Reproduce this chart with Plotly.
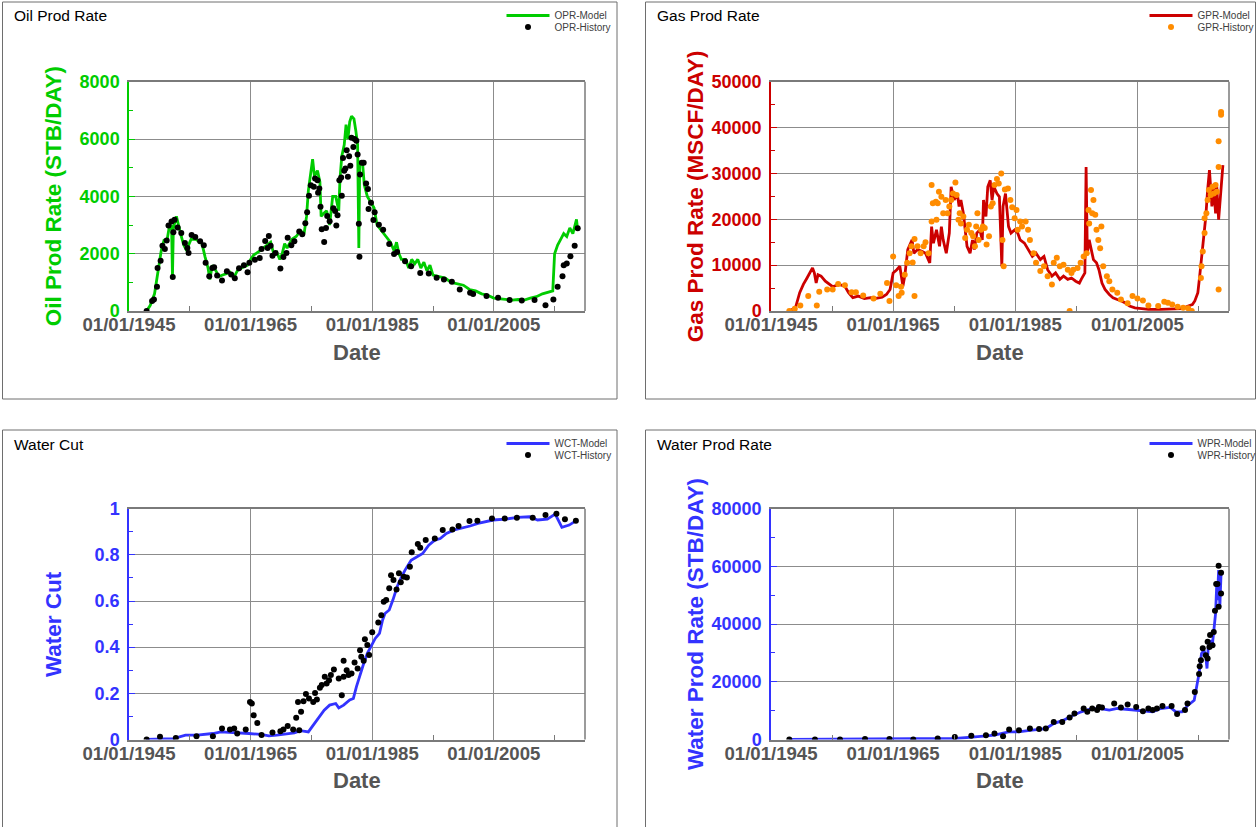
import plotly.graph_objects as go
import pandas as pd

# ---------------- DATA (decimal years, values) ----------------
opr_model_t = [1947.9, 1948.5, 1949.2, 1949.8, 1950.3, 1950.8, 1951.2, 1951.6, 1952.0, 1952.15, 1952.3, 1952.8,
               1953.2, 1953.6, 1954.0, 1954.5, 1954.8, 1955.2, 1956.0, 1957.0, 1957.5, 1958.0, 1958.3, 1958.7,
               1959.3, 1959.8, 1960.3, 1961.0, 1961.6, 1962.2, 1962.8, 1963.5, 1964.5, 1965.0, 1965.5, 1966.5,
               1967.2, 1967.7, 1968.3, 1968.8, 1969.3, 1969.8, 1970.2, 1970.6, 1971.0, 1971.8, 1972.5, 1973.2,
               1973.8, 1974.2, 1974.5, 1974.8, 1975.2, 1975.5, 1976.0, 1976.4, 1976.6, 1977.0, 1977.5, 1978.0,
               1978.5, 1979.0, 1979.5, 1979.7, 1980.0, 1980.4, 1980.7, 1981.0, 1981.3, 1981.6, 1982.0, 1982.3,
               1982.6, 1982.8, 1982.95, 1983.4, 1983.7, 1984.2, 1984.8, 1985.3, 1985.8, 1986.5, 1987.3, 1988.0,
               1988.6, 1989.0, 1989.4, 1989.8, 1990.5, 1991.0, 1991.5, 1992.0, 1992.5, 1993.0, 1993.5, 1994.0,
               1994.5, 1995.0, 1996.0, 1997.0, 1998.0, 1999.0, 2000.0, 2001.0, 2002.0, 2003.0, 2004.0, 2005.0,
               2006.0, 2007.0, 2008.0, 2009.0, 2010.0, 2011.0, 2012.0, 2013.0, 2014.0, 2014.7, 2015.0, 2015.5,
               2016.0, 2016.5, 2017.0, 2017.5, 2018.0, 2018.3, 2018.6, 2018.8]
opr_model_v = [0, 200, 600, 1500, 2100, 2500, 2400, 2900, 3000, 1200, 2900, 3300,
               2900, 2600, 2300, 2100, 2300, 2500, 2500, 2350, 1900, 1500, 1100, 1600,
               1400, 1200, 1250, 1300, 1350, 1150, 1400, 1500, 1600, 1800, 1950, 2100,
               2200, 2300, 2400, 2000, 2050, 1800, 2000, 2350, 2200, 2500, 2600, 2800,
               2700, 3300, 4200, 4600, 5300, 4700, 4900, 4500, 3300, 3400, 3500, 3000,
               4000, 4000, 3500, 4600, 5400, 5800, 6500, 6000, 6600, 6800, 6700, 6300,
               5800, 2200, 5200, 5200, 4400, 4000, 3800, 3600, 3000, 2800, 2600, 2400,
               2100, 2400, 2000, 1800, 1800, 1500, 1800, 1650, 1800, 1500, 1700, 1400,
               1600, 1250, 1200, 1150, 1000, 950, 900, 750, 700, 600, 550, 450,
               420, 400, 380, 400, 380, 450, 500, 600, 650, 700, 2000, 2300,
               2500, 2700, 2600, 2900, 2700, 3000, 3200, 2800]

opr_hist_t = [1947.9, 1948.8, 1949.1, 1949.6, 1949.7, 1950.2, 1950.5, 1950.9, 1951.2, 1951.5, 1952.2, 1952.3,
              1952.0, 1952.5, 1953.0, 1953.6, 1954.2, 1954.6, 1954.8, 1955.3, 1955.9, 1956.7, 1957.3, 1957.6,
              1958.2, 1958.7, 1959.0, 1959.5, 1960.3, 1961.1, 1961.8, 1962.4, 1963.1, 1963.9, 1964.5, 1964.8,
              1965.7, 1966.5, 1966.8, 1967.4, 1967.8, 1968.0, 1968.3, 1968.6, 1969.1, 1969.9, 1970.4, 1970.9,
              1971.1, 1971.7, 1972.2, 1973.0, 1973.5, 1974.0, 1974.3, 1974.6, 1974.9, 1975.4, 1975.6, 1976.0,
              1976.1, 1976.3, 1976.5, 1976.7, 1977.1, 1977.4, 1977.6, 1978.0, 1978.6, 1978.9, 1979.1, 1979.3,
              1979.6, 1979.9, 1980.0, 1980.2, 1980.4, 1980.6, 1980.8, 1981.0, 1981.2, 1981.4, 1981.6, 1981.9,
              1982.1, 1982.4, 1982.6, 1982.8, 1982.9, 1983.0, 1983.3, 1983.6, 1984.0, 1984.3, 1984.8, 1984.4,
              1985.4, 1985.2, 1986.1, 1986.8, 1987.8, 1988.6, 1989.1, 1990.4, 1991.4, 1992.9, 1994.3, 1995.6,
              1996.8, 1998.1, 1999.4, 2001.1, 2001.6, 2003.8, 2005.7, 2007.6, 2009.6, 2011.7, 2013.5, 2014.8,
              2015.5, 2016.3, 2016.5, 2017.0, 2017.6, 2018.3, 2018.8]
opr_hist_v = [0, 347, 400, 844, 1500, 1757, 2277, 2160, 2460, 2983, 1190, 2750,
              3120, 3180, 2910, 2717, 2370, 2200, 2020, 2650, 2580, 2430, 2290, 1680,
              1210, 1500, 1530, 1240, 1060, 1390, 1270, 1140, 1490, 1595, 1350, 1680,
              1790, 1850, 2160, 2440, 2200, 2620, 2277, 1930, 2020, 1480, 1885, 2020,
              2555, 2290, 2430, 2775, 2680, 3060, 3445, 4020, 4390, 4335, 4620, 4566,
              4127, 4277, 3640, 2855, 2405, 2900, 3318, 3133, 3584, 3490, 2983, 3341,
              4566, 4659, 4023, 5341, 4890, 4971, 5607, 4682, 5400, 5064, 6046, 5723,
              6000, 5942, 5457, 3040, 1896, 4763, 5168, 5168, 4450, 4254, 3780, 3560,
              3445, 3179, 3006, 2832, 2335, 1988, 2058, 1734, 1560, 1329, 1306, 1156,
              1098, 1017, 751, 636, 590, 520, 462, 381, 370, 381, 197, 405,
              844, 1214, 1595, 1653, 1907, 2277, 2890]

gpr_model_t = [1948.0, 1949.0, 1949.7, 1950.3, 1950.9, 1951.8, 1952.1, 1952.4, 1952.7, 1953.2, 1953.9, 1954.5,
               1955.1, 1956.1, 1957.1, 1957.7, 1958.4, 1959.3, 1960.3, 1961.3, 1962.2, 1963.2, 1963.9, 1964.5,
               1965.0, 1965.6, 1966.1, 1966.6, 1966.9, 1967.4, 1968.1, 1968.4, 1969.0, 1969.7, 1970.3, 1971.0,
               1971.3, 1971.6, 1972.1, 1972.6, 1972.9, 1973.2, 1973.7, 1974.2, 1974.5, 1975.0, 1975.5, 1975.8,
               1976.1, 1976.5, 1976.8, 1977.1, 1977.6, 1978.0, 1978.3, 1978.7, 1979.2, 1979.6, 1979.8, 1980.2,
               1980.5, 1980.9, 1981.2, 1981.5, 1982.0, 1982.4, 1982.8, 1983.0, 1983.4, 1983.9, 1984.3, 1984.9,
               1985.4, 1985.8, 1986.5, 1987.1, 1987.8, 1988.4, 1989.1, 1989.7, 1990.3, 1991.0, 1991.6, 1992.3,
               1992.9, 1993.6, 1994.2, 1994.9, 1995.5, 1995.8, 1996.4, 1996.6, 1996.8, 1997.1, 1997.5, 1997.8,
               1998.3, 1998.7, 1999.2, 1999.7, 2000.4, 2001.0, 2001.7, 2002.4, 2003.1, 2003.7, 2004.6, 2005.5,
               2006.8, 2008.8, 2010.7, 2012.3, 2013.3, 2014.0, 2014.4, 2014.9, 2015.2, 2015.7, 2016.2, 2016.5,
               2016.8, 2017.2, 2017.5, 2017.8, 2018.0, 2018.3, 2018.6, 2019.0]
gpr_model_v = [0, 700, 4000, 5800, 7200, 9400, 8300, 6100, 7900, 7600, 6500, 5800,
               5300, 5800, 5400, 4000, 2900, 3250, 2700, 2900, 2750, 3000, 3600, 4700,
               8300, 9000, 9750, 5400, 7600, 13400, 15500, 12600, 13400, 13000, 12600, 10500,
               18400, 14800, 17700, 14100, 18400, 15500, 12600, 17000, 27100, 24200, 25600, 22800,
               24200, 21300, 17000, 14100, 12600, 15500, 13400, 17000, 17700, 15500, 24200, 20600,
               27100, 28500, 24200, 27100, 25600, 24900, 9750, 22800, 25600, 18400, 17000, 17700,
               17000, 15500, 14800, 13400, 11900, 12600, 11200, 11900, 9000, 7600, 8300, 6900,
               7600, 6900, 7200, 6500, 6100, 6900, 8300, 31400, 12600, 15500, 12600, 11200,
               10500, 9000, 6100, 4700, 3600, 2900, 2500, 2200, 1700, 1100, 700, 500,
               360, 360, 500, 500, 1100, 1400, 2200, 4000, 7600, 13400, 20600, 26400,
               30700, 22800, 27100, 21300, 27100, 19900, 25600, 31800]

gpr_hist_t = [1948.0, 1948.9, 1949.8, 1951.1, 1952.5, 1952.9, 1954.2, 1955.1, 1956.0, 1957.1, 1958.2, 1958.9,
              1960.1, 1961.8, 1962.9, 1964.0, 1964.4, 1965.0, 1965.5, 1965.9, 1966.3, 1966.4, 1966.9, 1967.3,
              1967.7, 1968.0, 1968.2, 1968.5, 1968.5, 1969.0, 1969.5, 1970.0, 1970.3, 1970.8, 1971.3, 1971.3,
              1971.5, 1972.0, 1972.3, 1972.1, 1972.5, 1972.9, 1973.2, 1973.6, 1973.9, 1974.2, 1974.5, 1974.8,
              1975.2, 1975.4, 1975.7, 1975.9, 1976.1, 1976.5, 1976.8, 1977.1, 1977.4, 1977.8, 1978.1, 1978.4,
              1978.6, 1978.8, 1979.0, 1979.4, 1979.7, 1980.0, 1980.3, 1980.7, 1981.0, 1981.3, 1981.6, 1982.0,
              1982.3, 1982.7, 1982.9, 1983.1, 1983.3, 1983.8, 1984.2, 1984.5, 1984.9, 1985.2, 1985.4, 1985.8,
              1986.1, 1986.7, 1987.1, 1987.4, 1988.0, 1988.4, 1989.1, 1989.7, 1990.3, 1991.0, 1991.3, 1991.8,
              1992.3, 1992.9, 1993.6, 1993.9, 1994.2, 1994.5, 1995.2, 1995.7, 1996.2, 1996.7, 1997.0, 1997.1,
              1997.4, 1997.6, 1997.8, 1998.1, 1998.3, 1998.6, 1998.9, 1999.1, 1999.4, 2000.0, 2000.4, 2000.9,
              2001.7, 2002.3, 2003.4, 2004.2, 2005.0, 2005.9, 2006.8, 2008.4, 2009.4, 2010.0, 2010.7, 2011.6,
              2012.5, 2013.3, 2013.9, 2015.4, 2015.5, 2015.7, 2016.0, 2016.0, 2016.3, 2016.5, 2016.7, 2017.0,
              2017.3, 2017.5, 2017.8, 2018.0, 2018.3, 2018.3, 2018.3, 2018.7, 2018.7]
gpr_hist_v = [0, 500, 1200, 3250, 1200, 4200, 4700, 4700, 5900, 5600, 4100, 4100,
              3400, 2750, 3750, 6100, 2200, 11900, 5600, 3250, 5300, 4000, 7900, 10500,
              12600, 14100, 10600, 15700, 3250, 14100, 12600, 14100, 15000, 12600, 19500, 27500,
              23500, 23800, 23500, 19900, 26000, 24900, 21300, 24200, 21300, 22800, 24200, 25600,
              28000, 25300, 19900, 21300, 19100, 20600, 15900, 17700, 18800, 17000, 16300, 14100,
              18400, 21300, 15500, 17700, 18400, 18100, 14500, 16300, 22800, 23500, 27500, 28800,
              27800, 30000, 15500, 9750, 26500, 26700, 24200, 22600, 20200, 22000, 17700, 19500,
              18400, 19500, 17700, 15500, 12600, 10500, 8700, 9750, 7600, 5800, 10500, 11600,
              9750, 10100, 9000, 0, 8300, 9000, 9400, 10500, 11900, 12600, 22000, 19100,
              26400, 21300, 24200, 21000, 17700, 15500, 13700, 18400, 9750, 7600, 6500, 4700,
              4000, 2500, 1700, 3250, 2750, 2300, 1200, 1100, 2000, 1800, 1400, 900,
              700, 600, 0, 7200, 9750, 13000, 17000, 20200, 21300, 24200, 26400, 25300,
              27100, 25600, 27500, 26000, 4700, 31400, 37000, 42800, 43400]

wct_model_t = [1947.8, 1952.3, 1954.3, 1956.2, 1958.8, 1960.1, 1962.1, 1963.4, 1964.7, 1966.7, 1968.0, 1969.3,
               1970.6, 1972.2, 1973.2, 1974.5, 1975.1, 1976.1, 1977.1, 1978.0, 1979.0, 1979.5, 1980.3, 1981.3,
               1981.9, 1982.4, 1982.9, 1983.6, 1984.2, 1984.9, 1985.5, 1986.2, 1986.7, 1987.1, 1987.8, 1988.4,
               1989.1, 1989.7, 1990.4, 1991.4, 1992.3, 1993.3, 1994.3, 1995.3, 1996.2, 1997.2, 1998.5, 1999.8,
               2001.1, 2002.4, 2003.7, 2004.9, 2006.9, 2008.9, 2010.9, 2012.2, 2013.8, 2015.1, 2016.2, 2017.4,
               2018.3]
wct_model_v = [0, 0.004, 0.019, 0.019, 0.026, 0.033, 0.030, 0.029, 0.026, 0.022, 0.016, 0.019,
               0.023, 0.029, 0.038, 0.033, 0.055, 0.091, 0.127, 0.149, 0.156, 0.137, 0.149, 0.171,
               0.178, 0.228, 0.272, 0.329, 0.373, 0.409, 0.438, 0.460, 0.517, 0.546, 0.561, 0.604,
               0.662, 0.698, 0.734, 0.777, 0.792, 0.806, 0.842, 0.864, 0.871, 0.893, 0.908, 0.915,
               0.925, 0.936, 0.944, 0.951, 0.955, 0.962, 0.965, 0.951, 0.955, 0.977, 0.919, 0.929,
               0.944]

wct_hist_t = [1947.9, 1950.1, 1952.7, 1956.1, 1958.8, 1960.3, 1961.6, 1962.3, 1962.8, 1964.2, 1964.9, 1965.2,
              1965.5, 1966.1, 1966.8, 1968.6, 1969.9, 1970.4, 1971.1, 1972.0, 1972.5, 1972.8, 1973.0, 1973.3,
              1973.7, 1974.1, 1974.6, 1975.3, 1975.6, 1975.9, 1976.4, 1976.7, 1977.2, 1977.5, 1977.9, 1978.2,
              1978.7, 1979.5, 1980.0, 1980.3, 1980.3, 1980.8, 1981.1, 1981.6, 1982.1, 1982.6, 1983.0, 1983.2,
              1983.6, 1983.8, 1984.2, 1984.5, 1985.0, 1986.0, 1986.5, 1986.9, 1987.3, 1987.8, 1988.1, 1988.5,
              1989.0, 1989.4, 1989.7, 1990.2, 1990.7, 1991.2, 1991.5, 1992.5, 1992.9, 1993.8, 1995.3, 1996.6,
              1998.2, 1999.2, 2001.0, 2002.3, 2004.7, 2006.8, 2008.8, 2011.4, 2013.5, 2015.3, 2016.7, 2018.5]
wct_hist_v = [0, 0.012, 0.007, 0.014, 0.014, 0.048, 0.043, 0.048, 0.026, 0.043, 0.163, 0.156,
              0.105, 0.072, 0.019, 0.030, 0.036, 0.043, 0.058, 0.043, 0.094, 0.163, 0.040, 0.120,
              0.166, 0.197, 0.178, 0.163, 0.202, 0.173, 0.224, 0.236, 0.272, 0.243, 0.257, 0.279,
              0.303, 0.264, 0.192, 0.341, 0.272, 0.300, 0.279, 0.286, 0.334, 0.308, 0.387, 0.358,
              0.341, 0.434, 0.409, 0.366, 0.465, 0.507, 0.538, 0.597, 0.604, 0.655, 0.712, 0.691,
              0.650, 0.720, 0.681, 0.705, 0.702, 0.749, 0.811, 0.847, 0.831, 0.864, 0.871, 0.908,
              0.910, 0.925, 0.947, 0.948, 0.958, 0.958, 0.961, 0.961, 0.973, 0.978, 0.954, 0.948]

wpr_model_t = [1948.0, 1971.3, 1975.2, 1978.4, 1981.6, 1983.9, 1985.5, 1987.4, 1990.0, 1991.3, 1992.9, 1994.5,
               1995.8, 1997.1, 1998.7, 2000.4, 2001.7, 2003.6, 2004.9, 2006.2, 2007.5, 2008.8, 2010.4, 2011.3,
               2012.3, 2013.3, 2014.3, 2014.7, 2015.1, 2015.5, 2015.9, 2016.2, 2016.4, 2016.6, 2017.0, 2017.3,
               2017.5, 2017.8, 2018.0, 2018.1, 2018.3, 2018.5, 2018.7]
wpr_model_v = [0, 350, 350, 900, 1500, 2650, 2650, 3200, 3800, 5500, 6700, 8400,
               9600, 10400, 10750, 10200, 10750, 10400, 10200, 9800, 9600, 10750, 11100, 9600,
               9600, 11900, 13600, 18300, 22900, 29800, 31000, 28700, 24600, 32100, 34400, 33300,
               36800, 43700, 54100, 48300, 58700, 46000, 57600]

wpr_hist_t = [1948.0, 1952.2, 1956.3, 1960.4, 1964.4, 1968.3, 1972.3, 1975.1, 1977.8, 1980.2, 1981.6, 1983.0,
              1984.0, 1985.6, 1987.4, 1988.9, 1990.0, 1991.3, 1992.7, 1993.9, 1994.7, 1996.2, 1996.8, 1997.6,
              1998.4, 1998.7, 1999.2, 2001.2, 2002.3, 2003.4, 2004.8, 2005.9, 2006.8, 2007.5, 2008.2, 2009.1,
              2010.6, 2011.5, 2012.8, 2013.2, 2014.4, 2015.1, 2015.4, 2015.7, 2015.2, 2016.2, 2016.5, 2016.5,
              2016.9, 2016.8, 2017.3, 2017.5, 2017.7, 2017.9, 2018.1, 2018.3, 2018.3, 2018.7, 2018.7]
wpr_hist_v = [0, 0, 0, 200, 200, 0, 350, 900, 1300, 1500, 2100, 1150,
              3500, 3200, 3800, 3600, 3800, 6100, 6100, 7600, 9000, 10750, 9600, 10750,
              10200, 11300, 11100, 12500, 11100, 12100, 11300, 9800, 10750, 10200, 10750, 11600,
              11600, 8800, 10200, 12500, 16500, 22700, 27500, 31600, 25400, 29200, 28100, 33900,
              36200, 32100, 32700, 37300, 44600, 53900, 53900, 46000, 60200, 57800, 50600]

x_tick_labels = ["01/01/1945", "01/01/1965", "01/01/1985", "01/01/2005"]
panel_titles = ["Oil Prod Rate", "Gas Prod Rate", "Water Cut", "Water Prod Rate"]
y_titles = ["Oil Prod Rate (STB/DAY)", "Gas Prod Rate (MSCF/DAY)", "Water Cut", "Water Prod Rate (STB/DAY)"]
model_names = ["OPR-Model", "GPR-Model", "WCT-Model", "WPR-Model"]
hist_names = ["OPR-History", "GPR-History", "WCT-History", "WPR-History"]
y_ranges = [(0, 8000), (0, 50000), (0, 1), (0, 80000)]
y_dticks = [2000, 10000, 0.2, 20000]
y_formats = ["d", "d", "", "d"]

# ---------------- helpers ----------------
def to_dates(years):
    out = []
    for y in years:
        yi = int(y)
        start = pd.Timestamp(year=yi, month=1, day=1)
        out.append(start + pd.Timedelta(days=(y - yi) * 365.25))
    return out

W, H = 1258, 827
def px(x):
    return x / W
def py(y):
    return 1 - y / H

GREEN = "#00cc00"
RED = "#cc0000"
ORANGE = "#ff8c00"
BLUE = "#3333ff"
GRID = "#8c8c8c"
FRAME = "#7a7a7a"
TICKTXT = "#555555"
FONT = "Liberation Sans, Arial, sans-serif"

model_t = [opr_model_t, gpr_model_t, wct_model_t, wpr_model_t]
model_v = [opr_model_v, gpr_model_v, wct_model_v, wpr_model_v]
hist_t = [opr_hist_t, gpr_hist_t, wct_hist_t, wpr_hist_t]
hist_v = [opr_hist_v, gpr_hist_v, wct_hist_v, wpr_hist_v]
line_colors = [GREEN, RED, BLUE, BLUE]
dot_colors = ["#000000", ORANGE, "#000000", "#000000"]
axis_colors = [GREEN, RED, BLUE, BLUE]

# plot-area pixel boxes (left, right, top, bottom)
boxes = [(129, 585, 81.7, 311), (771, 1229, 81.7, 311),
         (129, 585, 508.7, 739.5), (771, 1229, 508.7, 739.5)]
# panel frames (x0, y0, x1, y1)
frames = [(2.5, 2, 617, 399), (645.5, 2, 1255.5, 399),
          (2.5, 430, 617, 840), (645.5, 430, 1255.5, 840)]
panel_left = [2.5, 645.5, 2.5, 645.5]
panel_top = [2, 2, 430, 430]

fig = go.Figure()
layout = dict(
    width=W, height=H, margin=dict(l=0, r=0, t=0, b=0, autoexpand=False),
    paper_bgcolor="white", plot_bgcolor="white",
    font=dict(family=FONT), showlegend=True,
    annotations=[], shapes=[],
)

for i in range(4):
    n = i + 1
    xa = "x" if n == 1 else f"x{n}"
    ya = "y" if n == 1 else f"y{n}"
    lg_m = "legend" if n == 1 else f"legend{2 * n - 1}"
    lg_h = f"legend{2 * n}"
    fig.add_trace(go.Scatter(
        x=to_dates(model_t[i]), y=model_v[i], mode="lines", name=model_names[i],
        line=dict(color=line_colors[i], width=2.8), xaxis=xa, yaxis=ya, legend=lg_m))
    fig.add_trace(go.Scatter(
        x=to_dates(hist_t[i]), y=hist_v[i], mode="markers", name=hist_names[i],
        marker=dict(color=dot_colors[i], size=6), xaxis=xa, yaxis=ya, legend=lg_h))

    L, R, T, B = boxes[i]
    xkey = "xaxis" if n == 1 else f"xaxis{n}"
    ykey = "yaxis" if n == 1 else f"yaxis{n}"
    layout[xkey] = dict(
        domain=[px(L), px(R)], anchor=ya, type="date",
        range=["1945-01-01", "2020-01-01"],
        tickvals=to_dates([1945, 1965, 1985, 2005]), ticktext=x_tick_labels,
        ticks="", showgrid=True, gridcolor=GRID, gridwidth=1,
        showline=True, linecolor=FRAME, linewidth=1.5, mirror=True,
        tickfont=dict(family=FONT, size=18.6, color=TICKTXT, weight="bold"),
        ticklabelstandoff=-4,
        minor=dict(tickvals=to_dates([1955, 1975, 1995, 2015]), ticks="inside", ticklen=5,
                   tickcolor=FRAME, tickwidth=1, showgrid=False),
        zeroline=False, fixedrange=True,
    )
    ax_col = axis_colors[i]
    layout[ykey] = dict(
        domain=[py(B), py(T)], anchor=xa, range=list(y_ranges[i]), dtick=y_dticks[i], tick0=0,
        tickformat=y_formats[i],
        showgrid=True, gridcolor=GRID, gridwidth=1, zeroline=False,
        showline=True, linecolor=ax_col, linewidth=1.5, mirror=False,
        ticks="inside", ticklen=6, tickcolor=ax_col, tickwidth=1,
        tickfont=dict(family=FONT, size=18, color=ax_col, weight="bold"),
        minor=dict(dtick=y_dticks[i] / 2, ticks="inside", ticklen=4, tickcolor=ax_col, showgrid=False),
        ticklabelstandoff=4, fixedrange=True,
    )
    # right border of the plot frame
    layout["shapes"].append(dict(type="line", xref=f"{xa} domain", yref=f"{ya} domain",
                                 x0=1, x1=1, y0=0, y1=1, line=dict(color=FRAME, width=1.5)))
    # panel frame
    fx0, fy0, fx1, fy1 = frames[i]
    layout["shapes"].append(dict(type="rect", xref="paper", yref="paper",
                                 x0=px(fx0), x1=px(fx1), y0=py(fy1), y1=py(fy0),
                                 line=dict(color="#6e6e6e", width=1), layer="below"))
    # panel title
    layout["annotations"].append(dict(text=panel_titles[i], xref="paper", yref="paper",
                                      x=px(panel_left[i] + 9.5), y=py(panel_top[i] + 14),
                                      xanchor="left", yanchor="middle", showarrow=False,
                                      font=dict(family=FONT, size=15.5, color="#000000")))
    # y-axis title
    layout["annotations"].append(dict(text=y_titles[i], xref="paper", yref="paper",
                                      x=px(L - 76), y=py((T + B) / 2), textangle=-90,
                                      xanchor="center", yanchor="middle", showarrow=False,
                                      font=dict(family=FONT, size=22.5, color=ax_col, weight="bold")))
    # x-axis title
    layout["annotations"].append(dict(text="Date", xref="paper", yref="paper",
                                      x=px((L + R) / 2), y=py(B + 41),
                                      xanchor="center", yanchor="middle", showarrow=False,
                                      font=dict(family=FONT, size=22, color=TICKTXT, weight="bold")))
    # legends
    lx = panel_left[i] + 499
    for k, (lg, row) in enumerate([(lg_m, 13.5), (lg_h, 25)]):
        layout[lg] = dict(x=px(lx), y=py(panel_top[i] + row), xanchor="left", yanchor="middle",
                          bgcolor="rgba(0,0,0,0)", borderwidth=0, itemwidth=43,
                          font=dict(family=FONT, size=10, color="#404040"))

fig.update_layout(**layout)
fig.write_html("out.html", config={"displayModeBar": False},
               post_script="document.body.style.margin='0px';")
